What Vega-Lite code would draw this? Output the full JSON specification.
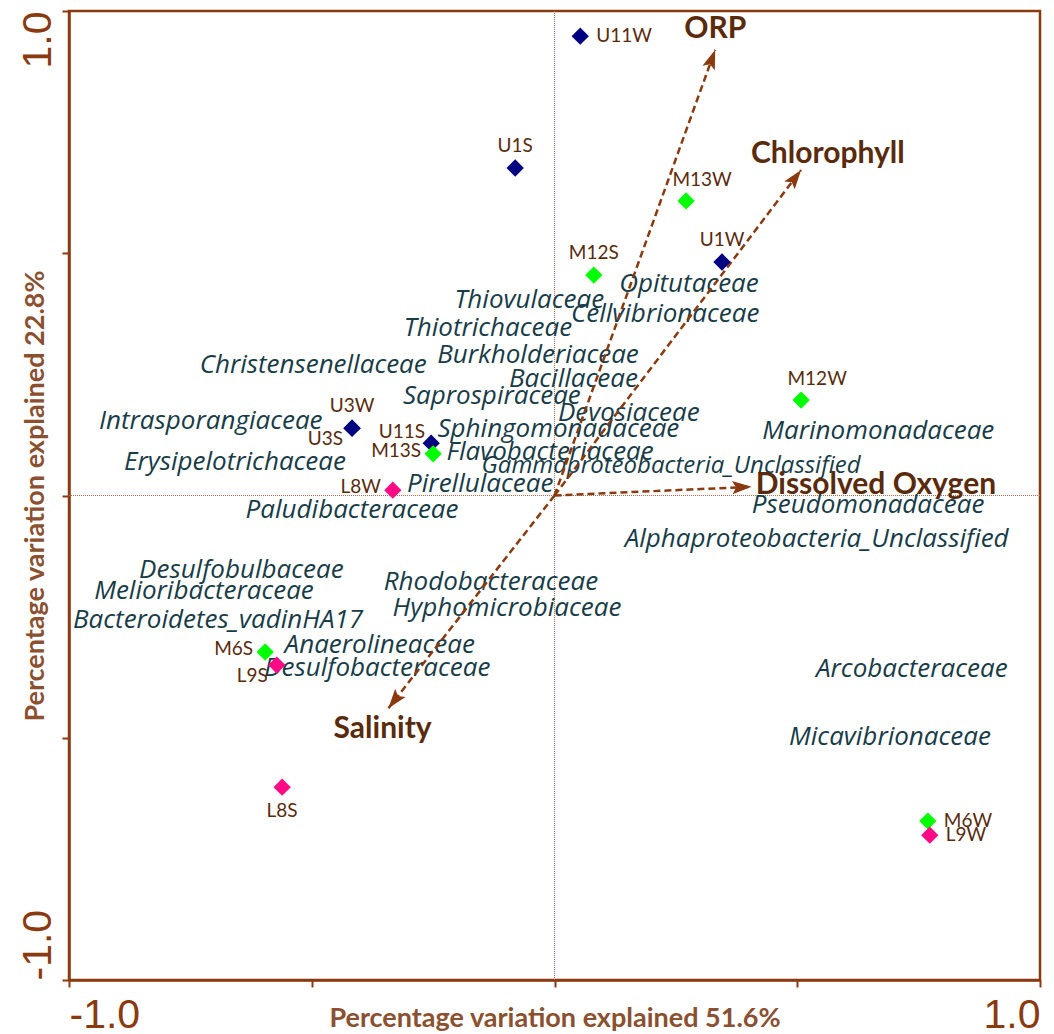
{
  "$schema": "https://vega.github.io/schema/vega-lite/v6.json",
  "width": 971,
  "height": 969,
  "autosize": "none",
  "padding": {"left": 69, "top": 11, "right": 14, "bottom": 54},
  "background": "white",
  "config": {
    "view": {"stroke": "#8B3A0F", "strokeWidth": 2.5},
    "axis": {"grid": false}
  },
  "datasets": {
    "samples": [
      {"sample": "U11W", "zone": "U", "x": 0.053, "y": 0.948, "side": "right"},
      {"sample": "U1S", "zone": "U", "x": -0.081, "y": 0.676, "side": "above"},
      {"sample": "M13W", "zone": "M", "x": 0.271, "y": 0.608, "side": "aboveright"},
      {"sample": "M12S", "zone": "M", "x": 0.081, "y": 0.455, "side": "above"},
      {"sample": "U1W", "zone": "U", "x": 0.345, "y": 0.482, "side": "above"},
      {"sample": "M12W", "zone": "M", "x": 0.508, "y": 0.197, "side": "aboveright"},
      {"sample": "U3W", "zone": "U", "x": -0.417, "y": 0.139, "side": "above"},
      {"sample": "U3S", "zone": "U", "x": -0.417, "y": 0.139, "side": "leftbelow"},
      {"sample": "U11S", "zone": "U", "x": -0.254, "y": 0.108, "side": "leftabove"},
      {"sample": "M13S", "zone": "M", "x": -0.25, "y": 0.086, "side": "left"},
      {"sample": "L8W", "zone": "L", "x": -0.333, "y": 0.011, "side": "left"},
      {"sample": "M6S", "zone": "M", "x": -0.596, "y": -0.323, "side": "left"},
      {"sample": "L9S", "zone": "L", "x": -0.572, "y": -0.35, "side": "leftbelow"},
      {"sample": "L8S", "zone": "L", "x": -0.561, "y": -0.602, "side": "below"},
      {"sample": "M6W", "zone": "M", "x": 0.769, "y": -0.672, "side": "right"},
      {"sample": "L9W", "zone": "L", "x": 0.773, "y": -0.701, "side": "right"}
    ],
    "taxa": [
      {"taxon": "Thiovulaceae", "x": -0.052, "y": 0.403},
      {"taxon": "Opitutaceae", "x": 0.277, "y": 0.436},
      {"taxon": "Cellvibrionaceae", "x": 0.228, "y": 0.375},
      {"taxon": "Thiotrichaceae", "x": -0.137, "y": 0.346},
      {"taxon": "Christensenellaceae", "x": -0.497, "y": 0.269},
      {"taxon": "Burkholderiaceae", "x": -0.034, "y": 0.29},
      {"taxon": "Bacillaceae", "x": 0.039, "y": 0.24},
      {"taxon": "Saprospiraceae", "x": -0.129, "y": 0.205},
      {"taxon": "Devosiaceae", "x": 0.153, "y": 0.17},
      {"taxon": "Intrasporangiaceae", "x": -0.708, "y": 0.153},
      {"taxon": "Sphingomonadaceae", "x": 0.008, "y": 0.137},
      {"taxon": "Marinomonadaceae", "x": 0.667, "y": 0.133},
      {"taxon": "Erysipelotrichaceae", "x": -0.658, "y": 0.069},
      {"taxon": "Flavobacteriaceae", "x": -0.009, "y": 0.089},
      {"taxon": "Gammaproteobacteria_Unclassified", "x": 0.24, "y": 0.06},
      {"taxon": "Pirellulaceae", "x": -0.153, "y": 0.024},
      {"taxon": "Pseudomonadaceae", "x": 0.646, "y": -0.019},
      {"taxon": "Paludibacteraceae", "x": -0.417, "y": -0.03},
      {"taxon": "Alphaproteobacteria_Unclassified", "x": 0.54, "y": -0.09},
      {"taxon": "Desulfobulbaceae", "x": -0.645, "y": -0.154},
      {"taxon": "Rhodobacteraceae", "x": -0.131, "y": -0.179},
      {"taxon": "Melioribacteraceae", "x": -0.722, "y": -0.197},
      {"taxon": "Hyphomicrobiaceae", "x": -0.098, "y": -0.232},
      {"taxon": "Bacteroidetes_vadinHA17", "x": -0.693, "y": -0.256},
      {"taxon": "Anaerolineaceae", "x": -0.36, "y": -0.308},
      {"taxon": "Desulfobacteraceae", "x": -0.365, "y": -0.356},
      {"taxon": "Arcobacteraceae", "x": 0.736, "y": -0.358},
      {"taxon": "Micavibrionaceae", "x": 0.691, "y": -0.499}
    ],
    "vectors": [
      {"variable": "ORP", "x0": 0, "y0": 0, "x": 0.331, "y": 0.92, "lx": 0.331, "ly": 0.962},
      {"variable": "Chlorophyll", "x0": 0, "y0": 0, "x": 0.508, "y": 0.672, "lx": 0.563, "ly": 0.704},
      {"variable": "Dissolved Oxygen", "x0": 0, "y0": 0, "x": 0.406, "y": 0.018, "lx": 0.662, "ly": 0.022},
      {"variable": "Salinity", "x0": 0, "y0": 0, "x": -0.342, "y": -0.439, "lx": -0.354, "ly": -0.481}
    ]
  },
  "layer": [
    {
      "data": {"values": [{"v": 0}]},
      "mark": {"type": "rule", "color": "#b0694a", "strokeWidth": 1, "strokeDash": [1, 1]},
      "encoding": {"x": {"field": "v", "type": "quantitative"}}
    },
    {
      "data": {"values": [{"v": 0}]},
      "mark": {"type": "rule", "color": "#b0694a", "strokeWidth": 1, "strokeDash": [1, 1]},
      "encoding": {"y": {"field": "v", "type": "quantitative"}}
    },
    {
      "data": {"name": "taxa"},
      "transform": [{"filter": "datum.taxon != 'Gammaproteobacteria_Unclassified'"}],
      "mark": {"type": "text", "font": "Open Sans", "fontStyle": "italic", "fontSize": 26, "color": "#173c48", "align": "center", "baseline": "middle"},
      "encoding": {
        "x": {"field": "x", "type": "quantitative"},
        "y": {"field": "y", "type": "quantitative"},
        "text": {"field": "taxon"}
      }
    },
    {
      "data": {"name": "taxa"},
      "transform": [{"filter": "datum.taxon == 'Gammaproteobacteria_Unclassified'"}],
      "mark": {"type": "text", "font": "Open Sans", "fontStyle": "italic", "fontSize": 24, "color": "#173c48", "align": "center", "baseline": "middle"},
      "encoding": {
        "x": {"field": "x", "type": "quantitative"},
        "y": {"field": "y", "type": "quantitative"},
        "text": {"field": "taxon"}
      }
    },
    {
      "data": {"name": "vectors"},
      "mark": {"type": "rule", "color": "#8B3A0F", "strokeWidth": 2.5, "strokeDash": [7, 4]},
      "encoding": {
        "x": {"field": "x0", "type": "quantitative"},
        "y": {"field": "y0", "type": "quantitative"},
        "x2": {"field": "x"},
        "y2": {"field": "y"}
      }
    },
    {
      "data": {"name": "vectors"},
      "transform": [
        {"calculate": "90 - atan2(datum.y, datum.x) * 180 / PI", "as": "heading"}
      ],
      "mark": {"type": "point", "filled": true, "color": "#8B3A0F", "opacity": 1, "size": 240, "shape": "M0,0L-0.85,2.5L0,2L0.85,2.5Z"},
      "encoding": {
        "x": {"field": "x", "type": "quantitative"},
        "y": {"field": "y", "type": "quantitative"},
        "angle": {"field": "heading", "type": "quantitative", "scale": null}
      }
    },
    {
      "data": {"name": "vectors"},
      "mark": {"type": "text", "font": "Lato", "fontWeight": "bold", "fontSize": 30, "color": "#5a2a0c", "align": "center", "baseline": "middle"},
      "encoding": {
        "x": {"field": "lx", "type": "quantitative"},
        "y": {"field": "ly", "type": "quantitative"},
        "text": {"field": "variable"}
      }
    },
    {
      "data": {"name": "samples"},
      "mark": {"type": "point", "shape": "diamond", "filled": true, "opacity": 1, "size": 300},
      "encoding": {
        "x": {
          "field": "x", "type": "quantitative",
          "scale": {"domain": [-1, 1], "nice": false, "zero": false},
          "axis": {
            "values": [-1, -0.5, 0, 0.5, 1],
            "labelExpr": "datum.value == 1 ? '1.0' : datum.value == -1 ? '-1.0' : ''",
            "labelFlush": true,
            "labelFont": "Liberation Sans",
            "labelFontSize": 41,
            "labelColor": "#8B3A0F",
            "labelPadding": 8,
            "labelBaseline": "top",
            "domainColor": "#8B3A0F",
            "domainWidth": 2.5,
            "tickColor": "#8B3A0F",
            "tickWidth": 2,
            "tickSize": 7,
            "title": "Percentage variation explained 51.6%",
            "titleFont": "Lato",
            "titleFontWeight": "bold",
            "titleFontSize": 27,
            "titleColor": "#8B5030",
            "titleBaseline": "middle",
            "titleY": 38
          }
        },
        "y": {
          "field": "y", "type": "quantitative",
          "scale": {"domain": [-1, 1], "nice": false, "zero": false},
          "axis": {
            "values": [-1, -0.5, 0, 0.5, 1],
            "labelExpr": "datum.value == 1 ? '1.0' : datum.value == -1 ? '-1.0' : ''",
            "labelFlush": false,
            "labelAngle": -90,
            "labelAlign": {"condition": {"test": "datum.value > 0", "value": "right"}, "value": "left"},
            "labelBaseline": "alphabetic",
            "labelFont": "Liberation Sans",
            "labelFontSize": 41,
            "labelColor": "#8B3A0F",
            "labelPadding": 12,
            "domainColor": "#8B3A0F",
            "domainWidth": 2.5,
            "tickColor": "#8B3A0F",
            "tickWidth": 2,
            "tickSize": 7,
            "title": "Percentage variation explained 22.8%",
            "titleFont": "Lato",
            "titleFontWeight": "bold",
            "titleFontSize": 27,
            "titleColor": "#8B5030",
            "titleBaseline": "middle",
            "titleX": -34
          }
        },
        "color": {
          "field": "zone", "type": "nominal",
          "scale": {"domain": ["U", "M", "L"], "range": ["#000080", "#00ff00", "#ff0a84"]},
          "legend": null
        }
      }
    },
    {
      "data": {"name": "samples"},
      "transform": [{"filter": "datum.side == 'right'"}],
      "mark": {"type": "text", "font": "Lato", "fontSize": 19, "color": "#5a2a0c", "align": "left", "baseline": "middle", "dx": 16},
      "encoding": {
        "x": {"field": "x", "type": "quantitative"},
        "y": {"field": "y", "type": "quantitative"},
        "text": {"field": "sample"}
      }
    },
    {
      "data": {"name": "samples"},
      "transform": [{"filter": "datum.side == 'above'"}],
      "mark": {"type": "text", "font": "Lato", "fontSize": 19, "color": "#5a2a0c", "align": "center", "baseline": "middle", "dy": -22},
      "encoding": {
        "x": {"field": "x", "type": "quantitative"},
        "y": {"field": "y", "type": "quantitative"},
        "text": {"field": "sample"}
      }
    },
    {
      "data": {"name": "samples"},
      "transform": [{"filter": "datum.side == 'aboveright'"}],
      "mark": {"type": "text", "font": "Lato", "fontSize": 19, "color": "#5a2a0c", "align": "center", "baseline": "middle", "dx": 16, "dy": -21},
      "encoding": {
        "x": {"field": "x", "type": "quantitative"},
        "y": {"field": "y", "type": "quantitative"},
        "text": {"field": "sample"}
      }
    },
    {
      "data": {"name": "samples"},
      "transform": [{"filter": "datum.side == 'below'"}],
      "mark": {"type": "text", "font": "Lato", "fontSize": 19, "color": "#5a2a0c", "align": "center", "baseline": "middle", "dy": 24},
      "encoding": {
        "x": {"field": "x", "type": "quantitative"},
        "y": {"field": "y", "type": "quantitative"},
        "text": {"field": "sample"}
      }
    },
    {
      "data": {"name": "samples"},
      "transform": [{"filter": "datum.side == 'left'"}],
      "mark": {"type": "text", "font": "Lato", "fontSize": 19, "color": "#5a2a0c", "align": "right", "baseline": "middle", "dx": -12, "dy": -3},
      "encoding": {
        "x": {"field": "x", "type": "quantitative"},
        "y": {"field": "y", "type": "quantitative"},
        "text": {"field": "sample"}
      }
    },
    {
      "data": {"name": "samples"},
      "transform": [{"filter": "datum.side == 'leftabove'"}],
      "mark": {"type": "text", "font": "Lato", "fontSize": 19, "color": "#5a2a0c", "align": "right", "baseline": "middle", "dx": -6, "dy": -11},
      "encoding": {
        "x": {"field": "x", "type": "quantitative"},
        "y": {"field": "y", "type": "quantitative"},
        "text": {"field": "sample"}
      }
    },
    {
      "data": {"name": "samples"},
      "transform": [{"filter": "datum.side == 'leftbelow'"}],
      "mark": {"type": "text", "font": "Lato", "fontSize": 19, "color": "#5a2a0c", "align": "right", "baseline": "middle", "dx": -9, "dy": 11},
      "encoding": {
        "x": {"field": "x", "type": "quantitative"},
        "y": {"field": "y", "type": "quantitative"},
        "text": {"field": "sample"}
      }
    }
  ]
}
